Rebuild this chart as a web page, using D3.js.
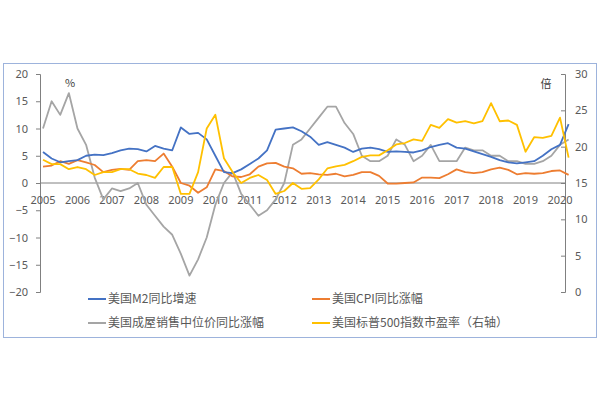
<!DOCTYPE html>
<html><head><meta charset="utf-8">
<script src="https://cdn.jsdelivr.net/npm/d3@7"></script>
<style>body{margin:0;background:#fff;font-family:"Noto Sans CJK SC","Noto Sans",sans-serif}</style>
</head><body><div id="chart"></div>
<script>
// quarterly points from 2005.0 to 2020.25
const startYear = 2005, step = 0.25;
const yearLabels = d3.range(2005, 2021);
const m2 = [5.7,4.5,3.8,4.0,4.2,5.0,5.2,5.1,5.5,6.0,6.3,6.2,5.8,6.8,6.3,6.0,10.2,9.0,9.2,8.0,5.0,2.0,1.8,2.5,3.5,4.5,6.0,9.8,10.0,10.2,9.5,8.5,7.0,7.5,7.0,6.5,5.7,6.3,6.5,6.2,5.7,5.8,5.7,5.6,6.0,6.6,7.0,7.3,6.5,6.3,5.8,5.3,4.8,4.2,3.8,3.6,3.8,4.0,5.0,6.2,7.0,10.8];
const cpi = [3.0,3.2,4.0,3.5,4.2,3.8,3.3,2.0,2.4,2.6,2.4,4.0,4.2,4.0,5.4,3.0,0.0,-0.5,-1.8,-0.8,2.5,2.2,1.2,1.1,1.6,3.0,3.6,3.7,3.0,2.7,1.7,1.8,1.6,1.5,1.7,1.2,1.5,2.0,2.0,1.3,-0.1,-0.1,0.0,0.1,1.0,1.0,0.9,1.6,2.5,2.0,1.8,2.0,2.5,2.8,2.4,1.6,1.8,1.7,1.8,2.2,2.3,1.5];
const house = [10,15,12.5,16.5,10,7,1,-3,-1,-1.5,-1,0,-4,-6,-8,-9.5,-13,-17,-14,-10,-4,0,2,-2,-4,-6,-5,-3,0,7,8,10,12,14,14,11,9,5,4,4,5,8,7,4,5,7,4,4,4,6.5,6,6,5,5,4,4,3.5,3.5,4,5,7,8];
const pe = [18.2,17.6,17.6,16.9,17.2,16.9,16.1,16.5,16.5,16.9,16.9,16.3,16.1,15.7,17.2,17.2,13.5,13.5,16.5,22.5,24.4,18.4,16.5,15.0,15.7,16.1,15.4,13.5,13.9,15.0,14.2,14.3,15.5,17.0,17.3,17.5,18.0,18.6,18.8,18.8,19.5,20.3,20.5,21.0,20.8,23.0,22.6,23.8,23.3,23.5,23.2,23.5,26.0,23.5,23.6,23.0,19.3,21.3,21.2,21.5,24.0,18.5];
const seriesNames = ["美国M2同比增速","美国CPI同比涨幅","美国成屋销售中位价同比涨幅","美国标普500指数市盈率（右轴）"];
const colors = ["#4472c4","#ed7d31","#a5a5a5","#ffc000"];

const W = 600, H = 400;
const svg = d3.select("#chart").append("svg").attr("width", W).attr("height", H);
svg.append("rect").attr("x", 3.5).attr("y", 63.5).attr("width", 593).attr("height", 274)
  .attr("fill", "#fff").attr("stroke", "#9db3dc");

const x = d3.scaleLinear().domain([2005, 2020]).range([43, 560]);
const yL = d3.scaleLinear().domain([-20, 20]).range([292, 74]);
const yR = d3.scaleLinear().domain([0, 30]).range([292, 74]);
const tx = i => startYear + i * step;

const axisStyle = g => {
  g.select(".domain").attr("stroke", "#808080");
  g.selectAll(".tick line").attr("stroke", "#808080");
  g.selectAll("text").attr("fill", "#595959").style("font-size", "11px").style("font-family", "Noto Sans");
};
svg.append("g").attr("transform", "translate(40,0)")
  .call(d3.axisLeft(yL).tickValues(d3.range(-20, 21, 5)).tickSize(4).tickPadding(8))
  .call(axisStyle);
svg.append("g").attr("transform", "translate(565,0)")
  .call(d3.axisRight(yR).tickValues(d3.range(0, 31, 5)).tickSize(-4).tickPadding(10))
  .call(axisStyle);
// zero line with year labels
svg.append("line").attr("x1", 40).attr("x2", 565).attr("y1", yL(0)).attr("y2", yL(0)).attr("stroke", "#808080");
svg.append("g").selectAll("text").data(yearLabels).join("text")
  .attr("x", d => x(d)).attr("y", yL(0) + 21).attr("text-anchor", "middle")
  .attr("fill", "#595959").style("font-size", "11px").style("font-family", "Noto Sans").text(d => d);

svg.append("text").attr("x", 70).attr("y", 87).attr("text-anchor", "middle").attr("fill", "#404040")
  .style("font-size", "11px").text("%");
svg.append("text").attr("x", 546).attr("y", 88).attr("text-anchor", "middle").attr("fill", "#404040")
  .style("font-size", "11px").text("倍");

const line = yScale => d3.line().x((d, i) => x(tx(i))).y(d => yScale(d));
[[house, yL, 2], [cpi, yL, 1], [m2, yL, 0], [pe, yR, 3]].forEach(([data, ys, c]) => {
  svg.append("path").datum(data).attr("d", line(ys)).attr("fill", "none")
    .attr("stroke", colors[c]).attr("stroke-width", 1.8).attr("stroke-linejoin", "round");
});

// legend
const legendPos = [[88, 299], [312, 299], [88, 323], [312, 323]];
seriesNames.forEach((name, i) => {
  const [lx, ly] = legendPos[i];
  svg.append("line").attr("x1", lx).attr("x2", lx + 18).attr("y1", ly).attr("y2", ly)
    .attr("stroke", colors[i]).attr("stroke-width", 2);
  svg.append("text").attr("x", lx + 20).attr("y", ly + 4).attr("fill", "#595959")
    .style("font-size", "12px").text(name);
});
</script></body></html>
